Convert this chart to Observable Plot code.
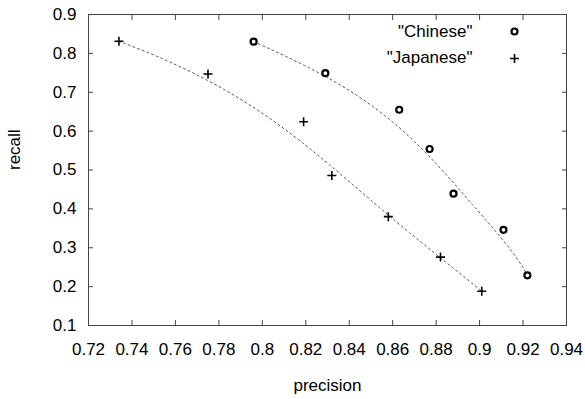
<!DOCTYPE html>
<html><head><meta charset="utf-8">
<script src="https://cdn.jsdelivr.net/npm/d3@7"></script>
<script src="https://cdn.jsdelivr.net/npm/@observablehq/plot@0.6"></script>
<style>html,body{margin:0;padding:0;background:#fff} svg{display:block}</style>
</head><body><div id="chart"></div>
<script>
// ---- data ----
const seriesNames = ["\"Chinese\"", "\"Japanese\""];
const chinesePrecision = [0.796, 0.829, 0.863, 0.877, 0.888, 0.911, 0.922];
const chineseRecall    = [0.830, 0.749, 0.655, 0.554, 0.439, 0.346, 0.229];
const japanesePrecision = [0.734, 0.775, 0.819, 0.832, 0.858, 0.882, 0.901];
const japaneseRecall    = [0.831, 0.747, 0.624, 0.486, 0.380, 0.276, 0.188];
const precisionTicks = [0.72, 0.74, 0.76, 0.78, 0.8, 0.82, 0.84, 0.86, 0.88, 0.9, 0.92, 0.94];
const recallTicks = [0.1, 0.2, 0.3, 0.4, 0.5, 0.6, 0.7, 0.8, 0.9];
const xLabel = "precision";
const yLabel = "recall";

// ---- build ----
const zip = (xs, ys) => xs.map((x, i) => ({x, y: ys[i]}));
const chinese = zip(chinesePrecision, chineseRecall);
const japanese = zip(japanesePrecision, japaneseRecall);
const fmt = d => String(+(+d).toFixed(2));

// single Bezier curve through all control points (like gnuplot "smooth bezier")
function bezierCurve(context) {
  let pts = [];
  return {
    areaStart() {}, areaEnd() {},
    lineStart() { pts = []; },
    point(x, y) { pts.push([+x, +y]); },
    lineEnd() {
      const n = pts.length;
      if (!n) return;
      const steps = 100;
      for (let s = 0; s <= steps; ++s) {
        const t = s / steps;
        const q = pts.map(p => p.slice());
        for (let k = n - 1; k > 0; --k)
          for (let i = 0; i < k; ++i) {
            q[i][0] = q[i][0] * (1 - t) + q[i + 1][0] * t;
            q[i][1] = q[i][1] * (1 - t) + q[i + 1][1] * t;
          }
        if (s === 0) context.moveTo(q[0][0], q[0][1]);
        else context.lineTo(q[0][0], q[0][1]);
      }
    }
  };
}

const plusSymbol = {
  draw(ctx, size) {
    const r = Math.sqrt(size / Math.PI);
    ctx.moveTo(-r, 0); ctx.lineTo(r, 0);
    ctx.moveTo(0, -r); ctx.lineTo(0, r);
  }
};

const frameColor = "#444";
const chart = Plot.plot({
  width: 585,
  height: 399,
  marginLeft: 88,
  marginRight: 19,
  marginTop: 14,
  marginBottom: 74,
  x: {domain: [0.72, 0.94]},
  y: {domain: [0.1, 0.9]},
  style: {fontFamily: "'Liberation Sans', Arial, sans-serif", fontSize: "17px", color: "black", background: "white"},
  marks: [
    Plot.frame({stroke: frameColor}),
    Plot.axisX(precisionTicks, {anchor: "bottom", tickSize: -5, tickFormat: () => "", label: null, stroke: frameColor}),
    Plot.axisX(precisionTicks, {anchor: "top", tickSize: -5, tickFormat: () => "", label: null, stroke: frameColor}),
    Plot.axisY(recallTicks, {anchor: "left", tickSize: -5, tickFormat: () => "", label: null, stroke: frameColor}),
    Plot.axisY(recallTicks, {anchor: "right", tickSize: -5, tickFormat: () => "", label: null, stroke: frameColor}),
    Plot.axisX(precisionTicks, {anchor: "bottom", tickSize: 0, tickPadding: 17, tickFormat: fmt, label: null, fill: "black"}),
    Plot.axisY(recallTicks, {anchor: "left", tickSize: 0, tickPadding: 12, tickFormat: fmt, label: null, fill: "black"}),
    Plot.text([xLabel], {frameAnchor: "bottom", lineAnchor: "middle", text: d => d, dy: 60, fill: "black"}),
    Plot.text([yLabel], {frameAnchor: "left", lineAnchor: "middle", text: d => d, dx: -74, rotate: -90, fill: "black"}),
    Plot.line(chinese, {x: "x", y: "y", curve: bezierCurve, stroke: "#555", strokeWidth: 1, strokeDasharray: "2,3"}),
    Plot.line(japanese, {x: "x", y: "y", curve: bezierCurve, stroke: "#555", strokeWidth: 1, strokeDasharray: "2,3"}),
    Plot.dot(chinese, {x: "x", y: "y", r: 3, stroke: "black", strokeWidth: 2.2, fill: "white"}),
    Plot.dot(japanese, {x: "x", y: "y", symbol: plusSymbol, r: 4.5, stroke: "black", strokeWidth: 1.6}),
    // legend
    Plot.text([seriesNames[0]], {frameAnchor: "top-right", lineAnchor: "middle", text: d => d, textAnchor: "end", dx: -94, dy: 17, fill: "black"}),
    Plot.text([seriesNames[1]], {frameAnchor: "top-right", lineAnchor: "middle", text: d => d, textAnchor: "end", dx: -94, dy: 43, fill: "black"}),
    Plot.dot([seriesNames[0]], {frameAnchor: "top-right", dx: -52, dy: 17, r: 3, stroke: "black", strokeWidth: 2.2, fill: "white"}),
    Plot.dot([seriesNames[1]], {frameAnchor: "top-right", dx: -52, dy: 44, symbol: plusSymbol, r: 4.5, stroke: "black", strokeWidth: 1.6})
  ]
});
document.getElementById("chart").appendChild(chart);
</script>
</body></html>
